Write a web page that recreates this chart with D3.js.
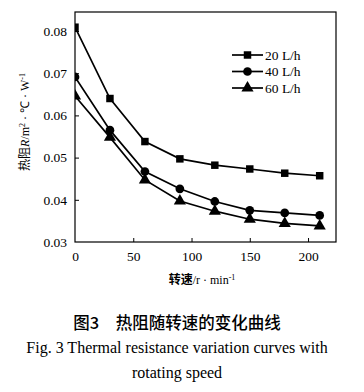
<!DOCTYPE html>
<html><head><meta charset="utf-8">
<script src="https://cdn.jsdelivr.net/npm/d3@7"></script>
<style>body{margin:0;background:#fff}svg{display:block}</style>
</head><body>
<svg id="c" width="364" height="392"></svg>
<script>
const speeds = [0, 30, 60, 90, 120, 150, 180, 210];
const r20 = [0.0809, 0.0640, 0.0538, 0.0497, 0.0482, 0.0473, 0.0463, 0.0457];
const r40 = [0.0691, 0.0565, 0.0467, 0.0426, 0.0396, 0.0375, 0.0369, 0.0363];
const r60 = [0.0646, 0.0548, 0.0447, 0.0397, 0.0373, 0.0354, 0.0344, 0.0338];
const seriesNames = ["20 L/h", "40 L/h", "60 L/h"];
const xTicks = [0, 50, 100, 150, 200];
const yTicks = [0.03, 0.04, 0.05, 0.06, 0.07, 0.08];

const svg = d3.select("#c");
const L = 75, R = 336, T = 12, B = 242;
const x = d3.scaleLinear().domain([0, 224]).range([L, R]);
const y = d3.scaleLinear().domain([0.03, 0.0845]).range([B, T]);
const serif = "'Liberation Serif','Times New Roman',serif";
const cjk = "'Noto Sans CJK SC',sans-serif";

svg.append("defs").append("clipPath").attr("id","pc")
  .append("rect").attr("x",L).attr("y",T).attr("width",R-L).attr("height",B-T);

// axes
const xa = svg.append("g").attr("transform",`translate(0,${B})`)
  .call(d3.axisBottom(x).tickValues(xTicks).tickSizeInner(-4).tickSizeOuter(0).tickPadding(9).tickFormat(d3.format("d")));
const ya = svg.append("g").attr("transform",`translate(${L},0)`)
  .call(d3.axisLeft(y).tickValues(yTicks).tickSizeInner(-4).tickSizeOuter(0).tickPadding(8).tickFormat(d3.format(".2f")));
[xa, ya].forEach(g => {
  g.select(".domain").remove();
  g.selectAll("line").attr("stroke","#000").attr("stroke-width",1);
  g.selectAll("text").attr("font-family",serif).attr("font-size",13.5).attr("fill","#000");
});
xa.selectAll(".tick").filter(d => d === 0).select("line").remove();
ya.selectAll(".tick").filter(d => d === 0.03).select("line").remove();

svg.append("rect").attr("x",L).attr("y",T).attr("width",R-L).attr("height",B-T)
  .attr("fill","none").attr("stroke","#000").attr("stroke-width",1.2);

const data = [r20, r40, r60];
const shapes = [d3.symbolSquare, d3.symbolCircle, d3.symbolTriangle];
const sizes = [56, 60, 64];
const line = d3.line().x((d,i) => x(speeds[i])).y(d => y(d));
const plot = svg.append("g").attr("clip-path","url(#pc)");
data.forEach((vals, k) => {
  plot.append("path").datum(vals).attr("d", line).attr("fill","none").attr("stroke","#000").attr("stroke-width",1.7);
  plot.selectAll(null).data(vals).enter().append("path")
    .attr("d", d3.symbol().type(shapes[k]).size(sizes[k]))
    .attr("transform",(d,i) => `translate(${x(speeds[i])},${y(d)})`)
    .attr("fill","#000");
});

// legend
const lg = svg.append("g");
seriesNames.forEach((name, k) => {
  const yy = 55 + k * 16.5;
  lg.append("line").attr("x1",232).attr("x2",263).attr("y1",yy).attr("y2",yy).attr("stroke","#000").attr("stroke-width",1.7);
  lg.append("path").attr("d", d3.symbol().type(shapes[k]).size(sizes[k])).attr("transform",`translate(247.5,${yy})`).attr("fill","#000");
  lg.append("text").attr("x",265).attr("y",yy+4.5).attr("font-family",serif).attr("font-size",13.5).text(name);
});

// axis titles
const yt = svg.append("text").attr("transform",`translate(29,122) rotate(-90)`).attr("text-anchor","middle")
  .attr("font-size",12).attr("fill","#000");
yt.append("tspan").attr("font-family",cjk).text("热阻");
yt.append("tspan").attr("font-family",serif).attr("font-style","italic").text("R");
yt.append("tspan").attr("font-family",serif).text("/m");
yt.append("tspan").attr("font-family",serif).attr("font-size",8).attr("dy",-4).text("2");
yt.append("tspan").attr("font-family",serif).attr("dy",4).text(" · ℃ · W");
yt.append("tspan").attr("font-family",serif).attr("font-size",8).attr("dy",-4).text("-1");

const xt = svg.append("text").attr("x",202).attr("y",284).attr("text-anchor","middle").attr("font-size",12).attr("fill","#000");
xt.append("tspan").attr("font-family",cjk).attr("font-weight",700).text("转速");
xt.append("tspan").attr("font-family",serif).text("/r · min");
xt.append("tspan").attr("font-family",serif).attr("font-size",8).attr("dy",-4).text("-1");

// caption
svg.append("text").attr("x",177).attr("y",329).attr("text-anchor","middle").attr("font-family",cjk)
  .attr("font-size",16.5).attr("font-weight",500).attr("xml:space","preserve").text("图3　热阻随转速的变化曲线");
svg.append("text").attr("x",177).attr("y",353).attr("text-anchor","middle").attr("font-family",serif)
  .attr("font-size",16).text("Fig. 3 Thermal resistance variation curves with");
svg.append("text").attr("x",177).attr("y",378).attr("text-anchor","middle").attr("font-family",serif)
  .attr("font-size",16).text("rotating speed");
</script>
</body></html>
